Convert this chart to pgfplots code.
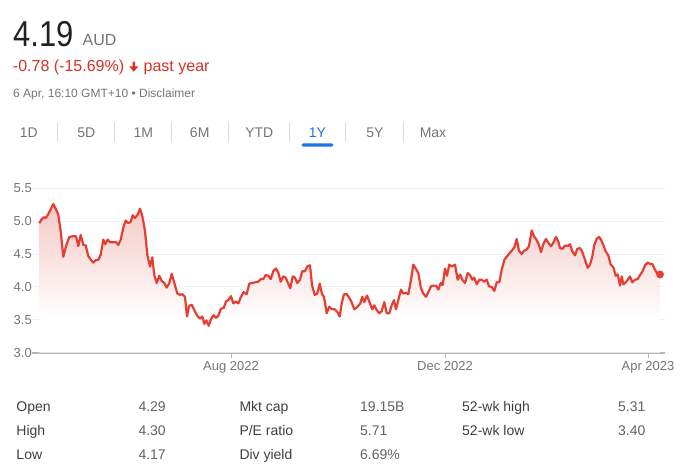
\documentclass[border=0pt]{standalone}
\usepackage{fontspec}
\setmainfont{Liberation Sans}
\usepackage{graphicx}
\usepackage{pgfplots}
\usepackage{pgfplotstable}
\pgfplotsset{compat=1.18}
\definecolor{linered}{RGB}{230,62,50}
\definecolor{fillred}{RGB}{245,201,198}
\definecolor{textred}{RGB}{217,48,37}
\definecolor{dark}{RGB}{32,33,36}
\definecolor{labelgray}{RGB}{112,117,122}
\definecolor{basegray}{RGB}{180,183,187}
\definecolor{gridgray}{RGB}{240,241,242}
\definecolor{sepgray}{RGB}{218,220,224}
\definecolor{tabblue}{RGB}{26,115,232}
\definecolor{stlabel}{RGB}{60,64,67}
\definecolor{stvalue}{RGB}{95,99,104}
\newcommand{\fs}[1]{\fontsize{#1bp}{#1bp}\selectfont}
\pgfdeclareverticalshading{redfade}{100bp}{color(0bp)=(white); color(36bp)=(white); color(75bp)=(fillred); color(100bp)=(fillred)}
\pgfplotstableread{
x y
39.3 4.97
41.7 5.03
44 5.06
46 5.05
48.3 5.11
50.7 5.18
53.3 5.26
56 5.18
58.3 5.10
60.7 4.85
63.3 4.46
66 4.62
69.3 4.76
72.7 4.77
76 4.77
78.3 4.62
80.7 4.79
83.3 4.64
85.7 4.63
88.3 4.47
91 4.41
93.3 4.37
96 4.41
98.3 4.41
100.7 4.49
103.3 4.72
105.3 4.65
107.7 4.72
110 4.68
113.3 4.68
116 4.68
118.3 4.64
120.7 4.72
123.3 4.90
125.7 5.01
128.3 4.97
130.7 4.99
132.7 5.09
135 5.05
137.7 5.10
140 5.19
142.3 5.08
145 4.85
147.3 4.49
150 4.31
152.3 4.45
154.3 4.18
156.7 4.06
159.3 4.17
161.7 4.09
164.3 4.06
166.7 3.99
169.3 4.06
171.7 4.20
174.3 4.06
177.3 3.90
180 3.88
182.3 3.89
185 3.85
187 3.55
189 3.71
191.7 3.73
194.3 3.65
197.3 3.56
200 3.52
202.3 3.55
204.3 3.44
206.3 3.49
208.7 3.41
211 3.51
213.7 3.57
216 3.53
218.3 3.56
221 3.67
223.7 3.68
226 3.78
228.3 3.80
231 3.86
233.3 3.75
235.7 3.78
238.3 3.75
241 3.85
243.5 3.92
246.7 3.89
249.3 4.05
252.3 4.06
255 4.07
258.3 4.08
260.7 4.12
263.3 4.12
265.7 4.18
268.3 4.17
270.7 4.12
273.3 4.24
276 4.28
278.3 4.22
280.7 4.08
283.3 4.16
285.7 4.14
288 4.06
290.3 3.98
292.7 4.16
295 4.14
297.3 4.06
300 4.11
302.3 4.24
305 4.24
307.3 4.31
310 4.33
312 4.03
314.7 3.88
317.3 3.90
319.7 4.05
322 3.89
324 3.85
326.7 3.60
329.3 3.70
332 3.66
334.7 3.66
337.3 3.62
339.7 3.55
341.7 3.75
344 3.89
346.7 3.89
349 3.84
351 3.79
354.3 3.66
357.7 3.70
360.3 3.75
362.3 3.85
364.3 3.77
367 3.87
370 3.75
372.3 3.66
374.3 3.72
376.7 3.65
379.3 3.60
381.7 3.63
384.3 3.77
386.7 3.60
389.3 3.60
391.7 3.72
394 3.80
396 3.66
398.3 3.80
401 3.96
403.3 3.90
406 3.91
408.3 3.89
410.7 4.08
413.3 4.34
415.7 4.28
418.3 4.21
421 3.98
423.3 3.90
426 3.85
428.3 3.92
431 4.01
433.7 4.02
436 4.02
438.3 3.96
440.7 4.06
442.7 4.03
445 4.28
447 4.17
449.3 4.34
452 4.31
455 4.34
457.7 4.11
460 4.19
462.3 4.11
465 4.06
467.7 4.21
470 4.18
472.3 4.11
474.3 4.14
476.7 4.04
479.3 4.11
481.7 4.11
484 4.08
486.7 4.11
489 4.01
491.7 4.00
494.3 3.94
496.7 4.07
499.3 4.07
501.7 4.26
504.3 4.41
506.7 4.46
509.3 4.51
511.7 4.55
514.3 4.60
516.7 4.73
519 4.55
521.7 4.50
524 4.55
526.7 4.57
529 4.62
531.7 4.86
534 4.77
536 4.73
538.7 4.65
541 4.53
543.3 4.65
546 4.73
548.3 4.67
551 4.62
553.3 4.67
556 4.76
558.3 4.69
560 4.59
562.7 4.58
565 4.63
567.7 4.62
570 4.65
572.3 4.54
575 4.48
577.3 4.58
580 4.59
582.3 4.53
585 4.41
587.7 4.29
590 4.34
592.3 4.46
594.3 4.64
596.7 4.73
599 4.76
601 4.72
603.3 4.64
605.7 4.54
608.3 4.48
610.7 4.34
613.3 4.30
615.7 4.17
617.7 4.19
620 4.02
621.7 4.16
623.3 4.04
625.7 4.07
627.7 4.11
630 4.16
632.3 4.07
635 4.11
637.7 4.12
640 4.18
642.3 4.23
645 4.33
647.7 4.37
650 4.35
652.3 4.35
655 4.26
657.7 4.19
660 4.19
}\pricedata
\pgfplotstableread{
x y
660 3
39.3 3
}\corners
\pgfplotstablevertcat{\pricefill}{\pricedata}
\pgfplotstablevertcat{\pricefill}{\corners}
\begin{document}
\begin{tikzpicture}
\useasboundingbox (0,0) rectangle (687bp,474bp);
% header
\node[anchor=base west, inner sep=0pt, text=dark, font=\fs{36}] at (13bp,427.3bp) {\scalebox{0.86}[1]{4.19}};
\node[anchor=base west, inner sep=0pt, text=labelgray, font=\fs{16}] at (82.5bp,428.7bp) {AUD};
\node[anchor=base west, inner sep=0pt, text=textred, font=\fs{16}] at (12.8bp,402bp) {-0.78 (-15.69\%)};
\fill[textred] (132.5bp,412.3bp) -- (135.1bp,412.3bp) -- (135.1bp,407.6bp) -- (138.3bp,407.6bp) -- (133.8bp,402.3bp) -- (129.3bp,407.6bp) -- (132.5bp,407.6bp) -- cycle;
\node[anchor=base west, inner sep=0pt, text=textred, font=\fs{16}] at (143.5bp,402bp) {past year};
\node[anchor=base west, inner sep=0pt, text=labelgray, font=\fs{12}] at (13bp,376.7bp) {6 Apr, 16:10 GMT+10 • Disclaimer};
% tabs
\foreach \xx/\lab in {28.7/1D, 86.2/5D, 143.3/1M, 199.7/6M, 259.3/YTD, 375/5Y, 433/Max}{
  \node[anchor=base, inner sep=0pt, text=labelgray, font=\fs{14}] at (\xx bp,336.7bp) {\lab};
}
\node[anchor=base, inner sep=0pt, text=tabblue, font=\fs{14}] at (317.5bp,336.7bp) {1Y};
\foreach \xx in {57.3,114.3,171.3,228.7,289.3,345.7,403.5}{
  \draw[sepgray, line width=1bp] (\xx bp,332.3bp) -- (\xx bp,352.3bp);
}
\fill[tabblue, rounded corners=1.5bp] (301.7bp,327.3bp) rectangle (333.3bp,330.7bp);
% stats
\node[anchor=base west, inner sep=0pt, text=stlabel, font=\fs{14}] at (16.3bp,62.7bp) {Open};
\node[anchor=base west, inner sep=0pt, text=stvalue, font=\fs{14}] at (138.3bp,62.7bp) {4.29};
\node[anchor=base west, inner sep=0pt, text=stlabel, font=\fs{14}] at (239.3bp,62.7bp) {Mkt cap};
\node[anchor=base west, inner sep=0pt, text=stvalue, font=\fs{14}] at (360bp,62.7bp) {19.15B};
\node[anchor=base west, inner sep=0pt, text=stlabel, font=\fs{14}] at (462bp,62.7bp) {52-wk high};
\node[anchor=base west, inner sep=0pt, text=stvalue, font=\fs{14}] at (618bp,62.7bp) {5.31};
\node[anchor=base west, inner sep=0pt, text=stlabel, font=\fs{14}] at (16.3bp,38.7bp) {High};
\node[anchor=base west, inner sep=0pt, text=stvalue, font=\fs{14}] at (138.3bp,38.7bp) {4.30};
\node[anchor=base west, inner sep=0pt, text=stlabel, font=\fs{14}] at (239.3bp,38.7bp) {P/E ratio};
\node[anchor=base west, inner sep=0pt, text=stvalue, font=\fs{14}] at (360bp,38.7bp) {5.71};
\node[anchor=base west, inner sep=0pt, text=stlabel, font=\fs{14}] at (462bp,38.7bp) {52-wk low};
\node[anchor=base west, inner sep=0pt, text=stvalue, font=\fs{14}] at (618bp,38.7bp) {3.40};
\node[anchor=base west, inner sep=0pt, text=stlabel, font=\fs{14}] at (16.3bp,14.7bp) {Low};
\node[anchor=base west, inner sep=0pt, text=stvalue, font=\fs{14}] at (138.3bp,14.7bp) {4.17};
\node[anchor=base west, inner sep=0pt, text=stlabel, font=\fs{14}] at (239.3bp,14.7bp) {Div yield};
\node[anchor=base west, inner sep=0pt, text=stvalue, font=\fs{14}] at (360bp,14.7bp) {6.69\%};
% chart
\begin{axis}[
  at={(32bp,121.3bp)}, anchor=south west,
  scale only axis, width=633bp, height=164.4bp,
  xmin=32, xmax=665, ymin=3, ymax=5.5,
  axis x line*=bottom, axis y line*=left,
  axis line style={-},
  x axis line style={draw=basegray, line width=2bp, -},
  y axis line style={draw=none},
  xtick={231,445,648}, xticklabels={Aug 2022,Dec 2022,Apr 2023},
  ytick={3,3.5,4,4.5,5,5.5}, yticklabels={3.0,3.5,4.0,4.5,5.0,5.5},
  ymajorgrids, major grid style={draw=gridgray, line width=1bp},
  xtick style={draw=basegray, line width=1bp},
  ytick style={draw=none},
  major tick length=5.5bp, tick align=outside,
  ticklabel style={font=\fs{13}, text=labelgray},
  yticklabel style={anchor=east, inner sep=0pt, xshift=5.5bp},
  xticklabel style={anchor=north, inner sep=0pt, yshift=-3bp},
  /pgf/number format/assume math mode=true,
  clip=false,
]
\addplot[shade, shading=redfade, draw=none] table[x=x,y=y] {\pricefill};
\addplot[draw=linered, line width=2.2bp, line join=round, mark=none] table[x=x,y=y] {\pricedata};
\addplot[only marks, mark=*, mark size=3.7bp, mark options={fill=linered, draw=linered}] coordinates {(660,4.19)};
\end{axis}
\end{tikzpicture}
\end{document}
